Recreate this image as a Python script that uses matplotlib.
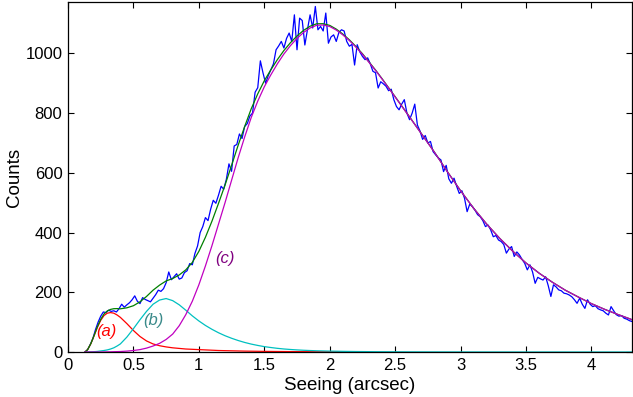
import numpy as np
import matplotlib.pyplot as plt

plt.rcParams['font.family'] = ['Liberation Sans', 'DejaVu Sans']

# histogram of seeing values, bins 0.02 arcsec wide starting at 0.13
bin_start = 0.13
bin_width = 0.02
counts = [
    0, 8, 25, 45, 75, 100, 120, 134, 132, 140,
    136, 138, 134, 145, 160, 150, 158, 165, 175, 188,
    170, 162, 182, 176, 172, 168, 180, 192, 207, 203,
    212, 232, 268, 242, 252, 262, 244, 248, 266, 272,
    296, 292, 330, 355, 400, 420, 450, 440, 478, 508,
    498, 525, 555, 545, 578, 630, 605, 690, 695, 730,
    715, 755, 765, 790, 800, 870, 885, 975, 935, 900,
    925, 945, 965, 1012, 1025, 1040, 1018, 1050, 1068, 1040,
    1129, 1012, 1118, 1110, 1028, 1080, 1129, 1085, 1157, 1079,
    1090, 1075, 1135, 1034, 1055, 1062, 1040, 1070, 1079, 1075,
    1040, 1024, 1030, 961, 1029, 1005, 990, 979, 985, 965,
    940, 935, 884, 905, 898, 890, 875, 880, 845, 822,
    811, 830, 845, 800, 778, 800, 830, 760, 740, 712,
    725, 700, 705, 671, 660, 650, 643, 604, 625, 580,
    565, 582, 555, 531, 540, 515, 470, 495, 487, 475,
    460, 453, 440, 420, 425, 409, 386, 390, 375, 370,
    360, 331, 345, 353, 320, 335, 325, 310, 297, 275,
    292, 268, 230, 250, 245, 241, 252, 222, 186, 225,
    218, 208, 205, 197, 195, 191, 185, 175, 163, 180,
    160, 146, 175, 160, 152, 155, 145, 141, 138, 130,
    124, 152, 138, 125, 120, 122, 113, 110, 105, 102,
]

# fitted components, sampled on model_x
model_x = [0.13, 0.15, 0.175, 0.2, 0.225, 0.25, 0.275, 0.3, 0.325, 0.35, 0.375, 0.4,
           0.45, 0.5, 0.55, 0.6, 0.65, 0.7, 0.75, 0.8, 0.85, 0.9, 0.95, 1.0,
           1.05, 1.1, 1.15, 1.2, 1.25, 1.3, 1.35, 1.4, 1.45, 1.5,
           1.55, 1.6, 1.65, 1.7, 1.75, 1.8, 1.85, 1.9, 1.95, 2.0,
           2.05, 2.1, 2.15, 2.2, 2.25, 2.3, 2.35, 2.4, 2.45, 2.5,
           2.6, 2.7, 2.8, 2.9, 3.0, 3.1, 3.2, 3.3, 3.4, 3.5,
           3.6, 3.7, 3.8, 3.9, 4.0, 4.1, 4.2, 4.3, 4.31]
comp_a = [0, 8, 28, 55, 83, 106, 122, 130, 132, 130, 124, 116,
          95, 72, 52, 37, 27, 21, 17, 14, 12, 10, 9, 8,
          7, 6, 5, 4.5, 4, 3.5, 3, 2.7, 2.4, 2.1,
          1.9, 1.7, 1.5, 1.3, 1.2, 1.1, 1.0, 0.9, 0.8, 0.7,
          0.6, 0.55, 0.5, 0.45, 0.4, 0.35, 0.3, 0.28, 0.25, 0.22,
          0.2, 0.15, 0.12, 0.1, 0.08, 0.06, 0.05, 0.04, 0.03, 0.03,
          0.02, 0.02, 0.02, 0.01, 0.01, 0.01, 0.01, 0.01, 0.01]
comp_b = [0, 0, 0.5, 1, 2, 3.5, 5, 7, 10, 14, 20, 27,
          50, 78, 108, 136, 160, 174, 179, 172, 158, 140, 121, 104,
          89, 76, 64.5, 54.5, 46, 38.5, 32, 26.5, 22, 18,
          15, 12.3, 10.1, 8.4, 7, 5.8, 4.9, 4.1, 3.5, 3,
          2.6, 2.2, 1.9, 1.6, 1.4, 1.2, 1.0, 0.9, 0.8, 0.7,
          0.5, 0.4, 0.3, 0.25, 0.2, 0.15, 0.12, 0.1, 0.08, 0.06,
          0.05, 0.04, 0.03, 0.03, 0.02, 0.02, 0.01, 0.01, 0.01]
comp_c = [0, 0, 0, 0, 0, 0, 0.2, 0.4, 0.6, 1, 1.3, 1.6,
          3, 5, 8, 13, 20, 29, 42, 60, 88, 125, 170, 225,
          288, 356, 428, 500, 575, 650, 720, 785, 840, 888,
          928, 965, 998, 1026, 1050, 1070, 1085, 1094, 1095, 1090,
          1078, 1062, 1043, 1021, 997, 970, 943, 914, 884, 854,
          793, 731, 669, 603, 540, 481, 428, 380, 337, 298,
          264, 234, 207, 184, 162, 143, 126, 110, 108]

labels = ['(a)', '(b)', '(c)']

seeing = np.round(bin_start + bin_width * np.arange(len(counts)), 2)
mx = np.array(model_x)
a = np.array(comp_a)
b = np.array(comp_b)
c = np.array(comp_c)
total = a + b + c
red_part = mx <= 2.25

fig = plt.figure(figsize=(6.33, 3.97), dpi=100)
ax = fig.add_axes([68 / 633, 45 / 397, 564 / 633, 350 / 397])

ax.plot(seeing, counts, color='#0000ff', lw=0.9)
ax.plot(mx[red_part], a[red_part], color='#ff0000', lw=0.9)
ax.plot(mx, b, color='#00c0c0', lw=0.9)
ax.plot(mx, total, color='#008000', lw=0.9)
ax.plot(mx, c, color='#c000c0', lw=0.9)

ax.text(0.296, 67, labels[0], color='#ff0000', fontsize=12, style='italic', ha='center', va='center')
ax.text(0.65, 107, labels[1], color='#3a8a8a', fontsize=12, style='italic', ha='center', va='center')
ax.text(1.20, 312, labels[2], color='#800080', fontsize=12, style='italic', ha='center', va='center')

ax.set_xlim(0, 4.31)
ax.set_ylim(0, 1172)
ax.set_xticks([0, 0.5, 1, 1.5, 2, 2.5, 3, 3.5, 4])
ax.set_xticklabels(['0', '0.5', '1', '1.5', '2', '2.5', '3', '3.5', '4'])
ax.set_yticks([0, 200, 400, 600, 800, 1000])
ax.tick_params(direction='in', top=True, right=True, length=4, width=0.8, labelsize=12, pad=4)
for s in ax.spines.values():
    s.set_linewidth(0.9)

ax.set_xlabel('Seeing (arcsec)', fontsize=13.5, labelpad=3)
ax.set_ylabel('Counts', fontsize=13.5, labelpad=2)

fig.savefig('out.png', dpi=100)
